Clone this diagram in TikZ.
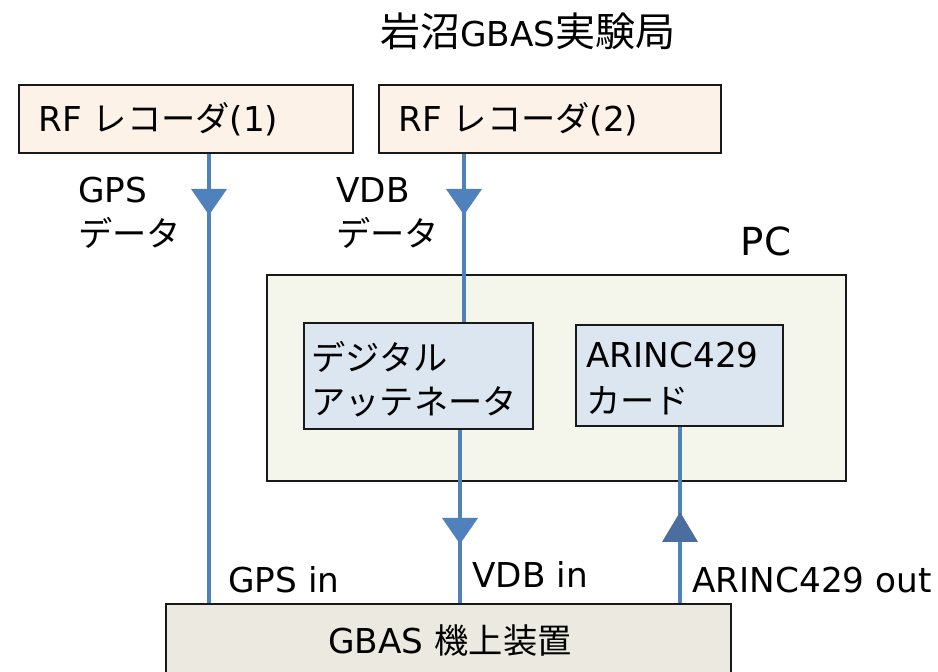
\documentclass[tikz,border=0pt]{standalone}
\usepackage{fontspec}
\setmainfont{DejaVu Sans}
\newfontfamily\jp{Noto Sans CJK JP}
\newcommand{\J}[1]{{\jp #1}}
\definecolor{lineblue}{HTML}{4F81BD}
\definecolor{upblue}{HTML}{4A6E9E}
\definecolor{rffill}{HTML}{FDF2E8}
\definecolor{pcfill}{HTML}{F4F6EC}
\definecolor{cardfill}{HTML}{DCE6F0}
\definecolor{gbasfill}{HTML}{ECEAE0}
\tikzset{
  box/.style={draw=black!90, line width=1.2pt, inner sep=0pt, anchor=north west},
  conn/.style={draw=lineblue, line width=1.8pt},
  lbl/.style={font=\fontsize{19.5}{23}\selectfont, inner sep=0pt, anchor=base west},
}
\begin{document}
\begin{tikzpicture}[x=0.02cm,y=-0.02cm]
\useasboundingbox (0,0) rectangle (938,672);
% boxes
\node[box, fill=rffill, minimum width=334*0.02cm, minimum height=68*0.02cm] (rf1) at (18,84) {};
\node[box, fill=rffill, minimum width=342*0.02cm, minimum height=68*0.02cm] (rf2) at (378,84) {};
\node[box, fill=pcfill, minimum width=579*0.02cm, minimum height=206*0.02cm] (pc) at (266,274) {};
\node[box, fill=cardfill, minimum width=229*0.02cm, minimum height=106*0.02cm] (dig) at (303,322) {};
\node[box, fill=cardfill, minimum width=207*0.02cm, minimum height=101*0.02cm] (arinc) at (575,324) {};
\node[box, fill=gbasfill, minimum width=565*0.02cm, minimum height=80*0.02cm] (gbas) at (165,603) {};
% texts
\node[lbl, anchor=base, font=\fontsize{19.5}{23}\selectfont] (title) at (528,47) {{\fontsize{22.8}{26}\selectfont\jp 岩沼}GBAS{\fontsize{22.8}{26}\selectfont\jp 実験局}};
\node[lbl] (rf1t) at (38,132) {RF \J{レコーダ}(1)};
\node[lbl] (rf2t) at (398,132) {RF \J{レコーダ}(2)};
\node[lbl, anchor=base, font=\fontsize{22}{26}\selectfont] (pct) at (766,256) {PC};
\node[lbl] (gpsd1) at (78,203) {GPS};
\node[lbl] (gpsd2) at (78,247) {\J{データ}};
\node[lbl] (vdbd1) at (336,203) {VDB};
\node[lbl] (vdbd2) at (336,247) {\J{データ}};
\node[lbl] (digt1) at (311,371) {\J{デジタル}};
\node[lbl] (digt2) at (311,415) {\J{アッテネータ}};
\node[lbl] (arinct1) at (586,368) {ARINC429};
\node[lbl] (arinct2) at (586,414) {\J{カード}};
\node[lbl] (gpsin) at (228,593) {GPS in};
\node[lbl] (vdbin) at (472,588) {VDB in};
\node[lbl] (arout) at (692,593) {ARINC429 out};
\node[lbl, anchor=base] (gbast) at (450,654) {GBAS \J{機上装置}};
% connectors
\draw[conn] (rf1.south -| 209,0) -- (gbas.north -| 209,0);
\draw[conn] (rf2.south -| 464,0) -- (dig.north -| 464,0);
\draw[conn] (dig.south -| 460,0) -- (gbas.north -| 460,0);
\draw[conn] (arinc.south -| 680,0) -- (gbas.north -| 680,0);
% arrowheads
\fill[lineblue] (191,189) -- (227,189) -- (209,215) -- cycle;
\fill[lineblue] (446,189) -- (482,189) -- (464,215) -- cycle;
\fill[lineblue] (442,518) -- (478,518) -- (460,544) -- cycle;
\fill[upblue] (662,542) -- (698,542) -- (680,512) -- cycle;
\end{tikzpicture}
\end{document}
